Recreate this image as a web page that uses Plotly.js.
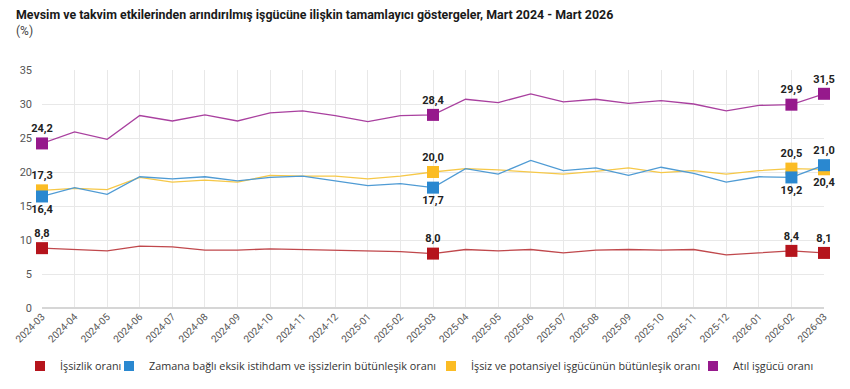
<!DOCTYPE html>
<html>
<head>
<meta charset="utf-8">
<script src="https://cdn.plot.ly/plotly-3.0.1.min.js"></script>
<style>html,body{margin:0;padding:0;background:#fff;}#chart{width:850px;height:389px;}</style>
</head>
<body>
<div id="chart"></div>
<script>
const months = ["2024-03","2024-04","2024-05","2024-06","2024-07","2024-08","2024-09","2024-10","2024-11","2024-12","2025-01","2025-02","2025-03","2025-04","2025-05","2025-06","2025-07","2025-08","2025-09","2025-10","2025-11","2025-12","2026-01","2026-02","2026-03"];
const issizlik = [8.8,8.6,8.4,9.1,9.0,8.5,8.5,8.7,8.6,8.6,8.5,8.3,8.0,8.6,8.4,8.6,8.1,8.5,8.6,8.5,8.6,7.8,8.1,8.4,8.1];
const zamanaBagli = [16.4,17.7,16.7,19.3,19.0,19.3,18.7,19.2,19.4,18.7,18.0,18.3,17.7,20.5,19.7,21.7,20.2,20.6,19.5,20.7,19.8,18.5,19.3,19.2,21.0];
const potansiyel = [17.3,17.6,17.4,19.2,18.5,18.8,18.5,19.5,19.4,19.4,19.0,19.4,20.0,20.5,20.3,20.0,19.7,20.1,20.6,19.9,20.2,19.7,20.2,20.5,20.4];
const atil = [24.2,25.9,24.8,28.3,27.5,28.4,27.5,28.7,29.0,28.3,27.4,28.3,28.4,30.7,30.2,31.5,30.3,30.7,30.1,30.5,30.0,29.0,29.8,29.9,31.5];
const seriesNames = ["İşsizlik oranı","Zamana bağlı eksik istihdam ve işsizlerin bütünleşik oranı","İşsiz ve potansiyel işgücünün bütünleşik oranı","Atıl işgücü oranı"];
const titleText = "Mevsim ve takvim etkilerinden arındırılmış işgücüne ilişkin tamamlayıcı göstergeler, Mart 2024 - Mart 2026";
const unitText = "(%)";
const highlightIdx = [0,12,23,24];
const labelPos = [
  ["top center","top center","top center","top center"],
  ["bottom center","bottom center","bottom center","top center"],
  ["top center","top center","top center","bottom center"],
  ["top center","top center","top center","top center"]
];
const colors = ["#b5141c","#2a88d0","#fbbc24","#96198c"];
const lineColors = ["#c0484c","#4f9bd4","#f6c848","#a9409f"];
const data = [issizlik, zamanaBagli, potansiyel, atil];
const drawOrder = [0, 2, 1, 3];
const legendIds = ["legend","legend2","legend3","legend4"];
const legendLeft = [20, 109, 431, 693];
const fmt = v => v.toFixed(1).replace(".", ",");

const traces = [];
drawOrder.forEach(i => {
  traces.push({
    type: "scatter", mode: "lines", x: months, y: data[i],
    line: {color: lineColors[i], width: 1.3},
    showlegend: false, hoverinfo: "x+y", cliponaxis: false
  });
});
drawOrder.forEach(i => {
  const vals = data[i];
  traces.push({
    type: "scatter", mode: "markers+text", showlegend: false,
    x: highlightIdx.map(k => months[k]), y: highlightIdx.map(k => vals[k]),
    text: highlightIdx.map(k => fmt(vals[k])),
    textposition: labelPos[i],
    textfont: {family: "Roboto, Arial, sans-serif", size: 11, color: "#222", weight: 700},
    marker: {symbol: "square", size: 12, color: colors[i]},
    cliponaxis: false
  });
});
// legend entries (no visible data)
[0,1,2,3].forEach(i => {
  traces.push({
    type: "scatter", mode: "markers", name: seriesNames[i], legend: legendIds[i],
    x: [months[0]], y: [null],
    marker: {symbol: "square", size: 10, color: colors[i]}
  });
});

const plotH = 238, plotW = 782, mL = 42, mT = 70;
const layout = {
  width: 850, height: 389,
  margin: {l: mL, r: 26, t: mT, b: 81},
  paper_bgcolor: "#fff", plot_bgcolor: "#fff",
  font: {family: "Roboto, Arial, sans-serif", color: "#555"},
  annotations: [
    {text: "<b>" + titleText + "</b>", xref: "paper", yref: "paper",
     x: (14 - mL) / plotW, y: (plotH + mT - 15) / plotH, xanchor: "left", yanchor: "middle",
     showarrow: false, font: {family: "Roboto, Arial, sans-serif", size: 12.4, color: "#1a1a1a"}},
    {text: unitText, xref: "paper", yref: "paper",
     x: (14 - mL) / plotW, y: (plotH + mT - 31) / plotH, xanchor: "left", yanchor: "middle",
     showarrow: false, font: {family: "Roboto, Arial, sans-serif", size: 12, color: "#444"}}
  ],
  xaxis: {
    type: "category", range: [0, 24], tickangle: -45,
    tickfont: {size: 10, color: "#555"},
    showgrid: true, gridcolor: "#e8e8e8", gridwidth: 1,
    showline: false, zeroline: false, ticks: ""
  },
  yaxis: {
    range: [0, 35], dtick: 5, tickfont: {size: 11, color: "#555"},
    showgrid: true, gridcolor: "#e8e8e8", gridwidth: 1,
    zeroline: true, zerolinecolor: "#d6d6d6", zerolinewidth: 2,
    showline: false, ticks: "", ticklabelstandoff: 9
  },
  showlegend: true
};
legendIds.forEach((id, i) => {
  layout[id] = {
    orientation: "h", xref: "container", yref: "container",
    x: legendLeft[i] / 850, xanchor: "left", y: 1 - 366 / 389, yanchor: "middle",
    font: {family: "'Open Sans', Roboto, sans-serif", size: 10.8, color: "#333"},
    itemwidth: 30, bgcolor: "rgba(0,0,0,0)"
  };
});
Plotly.newPlot("chart", traces, layout, {displayModeBar: false, staticPlot: true});
</script>
</body>
</html>
